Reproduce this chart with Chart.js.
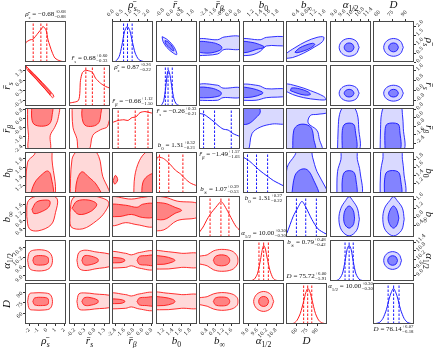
<!DOCTYPE html>
<html><head><meta charset="utf-8">
<script src="https://cdn.jsdelivr.net/npm/chart.js@4.4.1/dist/chart.umd.min.js"></script>
<style>
html,body{margin:0;padding:0;background:#fff;}
#wrap{position:relative;width:437px;height:348px;overflow:hidden;background:#fff;}
canvas{position:absolute;}
.t{position:absolute;font-family:'Liberation Serif','DejaVu Serif',serif;color:#111;white-space:nowrap;}
.ttl{font-size:7px;text-align:center;line-height:9px;}
.ss{display:inline-flex;flex-direction:column;vertical-align:middle;font-size:4.8px;line-height:4.6px;margin-left:0.5px;}
.ax{font-size:11px;text-align:center;line-height:14px;}
.ax sub,.ttl sub{font-size:70%;}
</style></head><body><div id="wrap"></div>
<script>
// ---------- parameters / axes ----------
const paramSym = ['ρ\u0304','r\u0304','r\u0304','b','b','α','D'];
const paramSub = ['s','s','β','0','∞','1/2',''];
const redRange  = [[-2.5,2.2],[-0.5,1.57],[-2.7,0.9],[1.02,1.95],[0,2],[8.68,11.3],[44,104]];
const blueRange = [[0,2.3],[-1.2,2.0],[-2.95,0.9],[0.98,1.98],[-0.1,1.75],[8.6,11.6],[53,99]];
const redTicks  = [['-2','-1','0','1','2'],['-0.2','0.3','0.8','1.3'],['-2.4','-1.6','-0.8','0.0','0.8'],['1.2','1.4','1.6','1.8'],['0.4','0.8','1.2','1.6'],['9.0','9.6','10.2','10.8'],['60','75','90']];
const blueTicks = [['0.0','0.5','1.0','1.5','2.0'],['-0.8','0.0','0.8','1.6'],['-2.4','-1.6','-0.8','0.0','0.8'],['1.2','1.4','1.6','1.8'],['0.4','0.8','1.2','1.6'],['9.0','9.6','10.2','10.8','11.4'],['60','75','90']];
// median, +err, -err
const redStats  = [[-0.68,0.68,0.88],[0.68,0.60,0.33],[-0.66,1.12,1.50],[1.31,0.32,0.21],[1.07,0.39,0.53],[10.00,0.30,0.30],[75.72,6.00,5.91]];
const blueStats = [[0.87,0.26,0.22],[-0.26,0.33,0.21],[-1.49,1.57,1.03],[1.31,0.27,0.22],[0.79,0.48,0.42],[10.00,0.30,0.30],[76.14,6.07,6.18]];

// ---------- 1D marginals (x, relative density) ----------
const redHistRho  = [[-2.5,0],[-2.44,0.5],[-2.39,0.55],[-1.93,0.62],[-1.58,0.64],[-1.01,0.81],[-0.55,0.95],[-0.44,1.0],[-0.09,0.9],[0.14,0.62],[0.6,0.28],[0.94,0.11],[1.51,0.03],[2.2,0.0]];
const redHistRs   = [[-0.5,0.08],[-0.02,0.16],[0.08,0.72],[0.18,0.94],[0.33,1.0],[0.48,0.99],[0.69,0.94],[0.84,0.78],[1.09,0.64],[1.34,0.55],[1.57,0.5]];
const redHistRb   = [[-2.7,0.74],[-2.17,0.8],[-1.65,0.82],[-1.3,0.8],[-0.95,0.88],[-0.6,0.9],[-0.24,1.02],[0.19,1.05],[0.63,1.02],[0.9,1.0]];
const redHistB0   = [[1.02,0.75],[1.05,1.0],[1.17,0.98],[1.26,0.9],[1.35,0.79],[1.46,0.64],[1.58,0.53],[1.69,0.39],[1.8,0.28],[1.95,0.2]];
const redHistBinf = [[0.0,0.12],[0.2,0.28],[0.4,0.5],[0.6,0.68],[0.8,0.82],[1.0,0.96],[1.07,1.0],[1.2,0.92],[1.4,0.72],[1.6,0.5],[1.8,0.3],[2.0,0.18]];
const redHistAlp  = [[8.68,0],[9.2,0.01],[9.4,0.05],[9.6,0.2],[9.8,0.6],[9.9,0.85],[10.0,1.0],[10.1,0.92],[10.2,0.7],[10.4,0.3],[10.6,0.08],[10.8,0.02],[11.3,0]];
const redHistD    = [[44,0],[55,0.02],[60,0.1],[65,0.3],[70,0.65],[73,0.88],[76,1.0],[79,0.9],[82,0.68],[87,0.3],[92,0.1],[97,0.03],[104,0]];
const blueHistRho = [[0,0],[0.2,0.02],[0.4,0.15],[0.55,0.45],[0.7,0.85],[0.85,1.0],[1.0,0.88],[1.15,0.55],[1.3,0.25],[1.5,0.07],[1.8,0.01],[2.3,0]];
const blueHistRs  = [[-1.2,0],[-0.8,0.02],[-0.6,0.15],[-0.45,0.5],[-0.3,0.95],[-0.22,1.0],[-0.1,0.85],[0.05,0.5],[0.2,0.2],[0.4,0.05],[0.7,0.01],[2.0,0]];
const blueHistRb  = [[-2.95,1.0],[-2.48,0.97],[-2.0,0.87],[-1.53,0.76],[-1.16,0.66],[-0.69,0.56],[-0.21,0.53],[0.26,0.43],[0.9,0.35]];
const blueHistB0  = [[0.99,1.0],[1.11,0.92],[1.24,0.79],[1.36,0.66],[1.48,0.55],[1.6,0.45],[1.72,0.35],[1.85,0.27],[1.97,0.2]];
const blueHistBinf= [[-0.1,0.08],[-0.05,0.12],[0.22,0.57],[0.44,0.83],[0.62,1.0],[0.8,0.83],[1.07,0.49],[1.34,0.23],[1.66,0.1],[1.75,0.08]];
const blueHistAlp = [[8.6,0],[9.2,0.03],[9.5,0.2],[9.7,0.55],[9.85,0.88],[10.0,1.0],[10.15,0.88],[10.3,0.55],[10.5,0.2],[10.8,0.03],[11.6,0]];
const blueHistD   = [[53,0],[60,0.04],[64,0.15],[68,0.4],[72,0.78],[76,1.0],[80,0.78],[84,0.4],[88,0.15],[92,0.04],[99,0]];

// ---------- 2D credible contours: [outer, inner, ...] as (x, y) in data units ----------
const red10 = [[[-2.4,1.52],[-1.5,1.14],[-0.5,0.68],[0.4,0.25],[0.8,0.0],[0.65,-0.08],[-0.2,0.36],[-1.2,0.84],[-2.2,1.3],[-2.4,1.52]],
               [[-2.1,1.36],[-1.2,0.96],[0.1,0.34],[0.5,0.12],[0.35,0.1],[-0.9,0.7],[-2.0,1.27],[-2.1,1.36]]];
const red20 = [[[-2.2,1.2],[-2.2,-0.5],[-2.1,-1.5],[-2.0,-2.8],[0.3,-2.8],[0.4,-1.5],[0.9,-0.8],[1.3,0.0],[1.3,1.2],[-2.2,1.2]],
               [[-1.7,1.2],[-1.75,0.2],[-1.5,-0.5],[-0.6,-0.7],[0.3,-0.5],[0.6,0.2],[0.55,1.2],[-1.7,1.2]]];
const red21 = [[[-0.35,1.2],[-0.3,-0.8],[-0.1,-1.8],[0.0,-2.8],[0.5,-2.8],[0.7,-1.5],[1.1,-1.0],[1.45,-0.7],[1.5,1.2],[-0.35,1.2]],
               [[0.18,1.2],[0.15,0.2],[0.3,-0.6],[0.7,-0.7],[1.0,-0.4],[1.1,0.3],[1.1,1.2],[0.18,1.2]]];
const red30 = [[[-2.45,0.9],[-2.2,1.72],[-1.4,1.9],[-1.0,2.1],[0.4,2.1],[0.6,1.77],[0.75,0.9],[-2.45,0.9]],
               [[-2.0,0.9],[-1.4,1.25],[-0.5,1.45],[0.1,1.52],[0.45,1.43],[0.6,0.9],[-2.0,0.9]]];
const red31 = [[[-0.45,0.9],[-0.35,1.78],[-0.1,1.97],[0.5,2.1],[1.0,1.85],[1.2,1.4],[1.5,1.1],[1.6,0.9],[-0.45,0.9]],
               [[-0.2,0.9],[-0.1,1.3],[0.15,1.5],[0.5,1.38],[0.9,1.2],[1.15,0.9],[-0.2,0.9]]];
const red32 = [[[-0.8,0.9],[-0.7,1.4],[-0.3,1.75],[0.3,1.95],[1.0,2.0],[1.0,0.9],[-0.8,0.9]],
               [[-0.1,0.9],[0.0,1.25],[0.4,1.4],[1.0,1.45],[1.0,0.9],[-0.1,0.9]],
               [[-2.6,1.3],[-2.4,1.42],[-2.2,1.32],[-2.45,1.22],[-2.6,1.3]]];
const red40 = [[[-2.3,1.0],[-2.2,1.7],[-1.5,1.95],[0.3,2.05],[1.2,1.85],[1.0,1.2],[0.5,0.6],[-1.0,0.3],[-2.0,0.4],[-2.3,1.0]],
               [[-1.7,1.35],[-1.2,1.7],[-0.3,1.8],[0.35,1.75],[0.2,1.45],[-0.8,1.2],[-1.5,1.15],[-1.7,1.35]]];
const red41 = [[[-0.45,1.2],[-0.3,1.9],[0.3,2.05],[1.0,1.95],[1.5,1.7],[1.3,1.2],[0.9,0.8],[0.2,0.4],[-0.4,0.5],[-0.45,1.2]],
               [[-0.35,1.4],[-0.1,1.75],[0.5,1.8],[0.9,1.6],[0.6,1.25],[0.0,1.1],[-0.35,1.4]]];
const red42 = [[[-3,0.6],[-3,1.9],[-1,1.85],[0.2,1.95],[1.0,1.95],[1.0,0.55],[-0.5,0.6],[-1.5,0.7],[-2.5,0.55],[-3,0.6]],
               [[-3,1.0],[-3,1.55],[-1.5,1.55],[-0.5,1.45],[0.0,1.6],[1.0,1.6],[1.0,1.0],[0.0,0.95],[-1.0,1.1],[-2,1.0],[-3,1.0]]];
const red43 = [[[0.9,0.3],[0.9,1.9],[1.2,1.95],[1.5,1.75],[2.0,1.6],[2.0,1.0],[1.5,0.8],[1.2,0.35],[0.9,0.3]],
               [[0.9,0.9],[0.9,1.6],[1.2,1.65],[1.45,1.45],[1.6,1.3],[1.45,1.15],[1.2,0.85],[0.9,0.9]]];
const red50 = [[[-2.2,10.0],[-2.0,10.5],[-1.5,10.65],[-0.3,10.65],[0.4,10.45],[0.65,10.0],[0.4,9.55],[-0.3,9.35],[-1.5,9.35],[-2.0,9.5],[-2.2,10.0]],
               [[-1.6,10.0],[-1.4,10.25],[-0.5,10.3],[0.1,10.2],[0.2,10.0],[0.1,9.8],[-0.5,9.7],[-1.4,9.75],[-1.6,10.0]]];
const red51 = [[[-0.1,10.0],[0.0,10.5],[0.3,10.65],[0.8,10.55],[1.7,10.3],[1.7,9.7],[0.8,9.45],[0.3,9.35],[0.0,9.5],[-0.1,10.0]],
               [[0.15,10.0],[0.25,10.27],[0.5,10.3],[0.95,10.1],[0.95,9.9],[0.5,9.7],[0.25,9.73],[0.15,10.0]]];
const red52 = [[[-3,9.5],[-3,10.5],[-1.5,10.45],[-1.0,10.35],[-0.3,10.5],[1,10.55],[1,9.45],[-0.3,9.5],[-1.0,9.65],[-1.5,9.55],[-3,9.5]],
               [[-3,9.85],[-3,10.15],[-2.0,10.15],[-1.6,10.05],[-1.6,9.95],[-2.0,9.85],[-3,9.85]],
               [[-0.5,10.0],[-0.3,10.25],[0.3,10.3],[1,10.3],[1,9.7],[0.3,9.7],[-0.3,9.75],[-0.5,10.0]]];
const red53 = [[[0.9,9.45],[0.9,10.55],[1.3,10.55],[1.6,10.45],[2.0,10.4],[2.0,9.6],[1.6,9.55],[1.3,9.45],[0.9,9.45]],
               [[0.9,9.75],[0.9,10.25],[1.2,10.25],[1.4,10.1],[1.45,10.0],[1.4,9.9],[1.2,9.75],[0.9,9.75]]];
const red54 = [[[-0.1,9.8],[-0.1,10.2],[0.4,10.35],[0.7,10.6],[1.1,10.7],[1.6,10.6],[1.85,10.3],[1.9,10.0],[1.85,9.7],[1.6,9.4],[1.1,9.3],[0.7,9.4],[0.4,9.65],[-0.1,9.8]],
               [[0.7,10.0],[0.8,10.25],[1.1,10.35],[1.4,10.25],[1.5,10.0],[1.4,9.75],[1.1,9.65],[0.8,9.75],[0.7,10.0]]];
const red60 = [[[-2.2,77],[-2.0,88],[-1.5,89.5],[-0.3,89.5],[0.4,87],[0.65,77],[0.4,67],[-0.3,64.5],[-1.5,64.5],[-2.0,66],[-2.2,77]],
               [[-1.6,77],[-1.4,82],[-0.5,83],[0.1,81.5],[0.2,77],[0.1,72.5],[-0.5,71],[-1.4,72],[-1.6,77]]];
const red61 = [[[-0.1,77],[0.0,88],[0.3,89.5],[0.8,88],[1.7,84],[1.7,70],[0.8,66],[0.3,64.5],[0.0,66],[-0.1,77]],
               [[0.15,77],[0.25,82],[0.5,83],[0.95,79],[0.95,75],[0.5,71],[0.25,72],[0.15,77]]];
const red62 = [[[-3,66],[-3,88],[-1.5,87],[-1.0,85],[-0.3,88],[1,89],[1,65],[-0.3,66],[-1.0,69],[-1.5,67],[-3,66]],
               [[-3,74],[-3,80],[-2.0,80],[-1.6,78],[-1.6,76],[-2.0,74],[-3,74]],
               [[-0.5,77],[-0.3,82],[0.3,83],[1,83],[1,71],[0.3,71],[-0.3,72],[-0.5,77]]];
const red63 = [[[0.9,65],[0.9,89],[1.3,89],[1.6,87],[2.0,86],[2.0,68],[1.6,67],[1.3,65],[0.9,65]],
               [[0.9,71],[0.9,83],[1.2,83],[1.4,80],[1.45,77],[1.4,74],[1.2,71],[0.9,71]]];
const red64 = [[[-0.1,73],[-0.1,81],[0.4,84],[0.7,88],[1.1,90],[1.6,88],[1.85,83],[1.9,77],[1.85,71],[1.6,66],[1.1,64],[0.7,66],[0.4,70],[-0.1,73]],
               [[0.7,77],[0.8,82],[1.1,83.5],[1.4,82],[1.5,77],[1.4,72],[1.1,70.5],[0.8,72],[0.7,77]]];
const red65 = [[[10.64,77],[10.45,87.3],[10.0,91.6],[9.55,87.3],[9.36,77],[9.55,66.7],[10.0,62.4],[10.45,66.7],[10.64,77]],
               [[10.32,77],[10.23,82.2],[10.0,84.3],[9.77,82.2],[9.68,77],[9.77,71.8],[10.0,69.7],[10.23,71.8],[10.32,77]]];

const blue01 = [[[-0.72,1.42],[-0.4,1.3],[0.01,1.03],[0.3,0.72],[0.42,0.42],[0.15,0.5],[-0.35,0.81],[-0.65,1.15],[-0.72,1.42]],
                [[-0.5,1.2],[-0.28,1.14],[-0.05,0.98],[0.12,0.8],[0.2,0.63],[0.02,0.68],[-0.25,0.86],[-0.45,1.02],[-0.5,1.2]]];
const blue02 = [[[-3.1,0.35],[-3.1,1.25],[-1.2,1.25],[-0.6,1.4],[1,1.4],[1,0.75],[-0.6,0.7],[-1.2,0.45],[-3.1,0.35]],
                [[-3.1,0.55],[-3.1,1.1],[-1.8,1.1],[-1.0,0.95],[-0.8,0.8],[-1.0,0.65],[-2.0,0.5],[-3.1,0.55]]];
const blue03 = [[[0.9,0.35],[0.9,1.25],[1.4,1.25],[1.55,1.38],[2.05,1.38],[2.05,0.95],[1.55,0.9],[1.4,0.6],[1.2,0.4],[0.9,0.35]],
                [[0.9,0.5],[0.9,1.1],[1.2,1.1],[1.45,0.92],[1.5,0.82],[1.3,0.7],[1.1,0.55],[0.9,0.5]]];
const blue04 = [[[-0.15,0.2],[-0.1,0.45],[0.3,0.8],[0.8,1.15],[1.3,1.38],[1.6,1.4],[1.55,1.15],[1.2,0.85],[0.7,0.5],[0.2,0.25],[-0.15,0.2]],
                [[0.3,0.55],[0.5,0.78],[0.8,0.95],[1.1,1.05],[1.2,0.98],[1.0,0.78],[0.7,0.62],[0.4,0.52],[0.3,0.55]]];
const blue05 = [[[10.73,0.82],[10.52,1.17],[10.0,1.32],[9.48,1.17],[9.27,0.82],[9.48,0.47],[10.0,0.32],[10.52,0.47],[10.73,0.82]],
                [[10.36,0.82],[10.25,1.0],[10.0,1.07],[9.75,1.0],[9.64,0.82],[9.75,0.64],[10.0,0.57],[10.25,0.64],[10.36,0.82]]];
const blue06 = [[[87,0.82],[83.8,1.17],[76,1.32],[68.2,1.17],[65,0.82],[68.2,0.47],[76,0.32],[83.8,0.47],[87,0.82]],
                [[81.5,0.82],[79.9,0.995],[76,1.07],[72.1,0.995],[70.5,0.82],[72.1,0.645],[76,0.57],[79.9,0.645],[81.5,0.82]]];
const blue12 = [[[-3.1,-0.75],[-3.1,0.42],[-1.2,0.42],[-0.7,0.2],[1,0.2],[1,-0.5],[-0.7,-0.55],[-1.2,-0.75],[-3.1,-0.75]],
                [[-3.1,-0.55],[-3.1,0.2],[-1.8,0.2],[-1.0,-0.05],[-0.85,-0.2],[-1.0,-0.4],[-2.0,-0.55],[-3.1,-0.55]]];
const blue13 = [[[0.9,-0.75],[0.9,0.4],[1.35,0.4],[1.55,0.15],[2.05,0.1],[2.05,-0.4],[1.55,-0.55],[1.3,-0.75],[0.9,-0.75]],
                [[0.9,-0.55],[0.9,0.2],[1.15,0.2],[1.45,-0.1],[1.45,-0.25],[1.2,-0.5],[0.9,-0.55]]];
const blue14 = [[[-0.15,0.0],[-0.15,0.5],[0.4,0.35],[1.0,0.0],[1.6,-0.45],[1.7,-0.7],[1.3,-0.7],[0.7,-0.55],[0.2,-0.3],[-0.15,0.0]],
                [[0.1,0.0],[0.15,0.2],[0.5,0.15],[0.9,-0.1],[1.0,-0.3],[0.75,-0.35],[0.4,-0.2],[0.1,0.0]]];
const blue15 = [[[10.73,-0.2],[10.52,0.24],[10.0,0.42],[9.48,0.24],[9.27,-0.2],[9.48,-0.64],[10.0,-0.82],[10.52,-0.64],[10.73,-0.2]],
                [[10.36,-0.2],[10.25,0.01],[10.0,0.1],[9.75,0.01],[9.64,-0.2],[9.75,-0.41],[10.0,-0.5],[10.25,-0.41],[10.36,-0.2]]];
const blue16 = [[[87,-0.2],[83.8,0.24],[76,0.42],[68.2,0.24],[65,-0.2],[68.2,-0.64],[76,-0.82],[83.8,-0.64],[87,-0.2]],
                [[81.5,-0.2],[79.9,0.01],[76,0.1],[72.1,0.01],[70.5,-0.2],[72.1,-0.41],[76,-0.5],[79.9,-0.41],[81.5,-0.2]]];
const blue23 = [[[0.9,1.0],[0.9,-3.1],[1.1,-3.1],[1.2,-1.5],[1.4,-0.9],[1.7,-0.6],[2.05,-0.5],[2.05,1.0],[0.9,1.0]],
                [[0.9,1.0],[0.9,-0.5],[1.1,-0.6],[1.3,0.0],[1.4,0.5],[1.35,1.0],[0.9,1.0]]];
const blue24 = [[[-0.2,-3.1],[-0.2,1.0],[1.8,1.0],[1.8,0.5],[1.3,0.3],[1.0,0.2],[0.9,-0.5],[1.3,-1.2],[1.4,-2.0],[1.5,-3.1],[-0.2,-3.1]],
                [[0.2,-3.1],[0.25,-1.2],[0.45,-0.7],[0.8,-0.65],[1.05,-1.0],[1.15,-2.0],[1.2,-3.1],[0.2,-3.1]]];
const blue25 = [[[9.15,-3.1],[9.2,-1.0],[9.3,0.3],[9.6,1.0],[10.3,1.0],[10.6,0.3],[10.7,-1.0],[10.7,-3.1],[9.15,-3.1]],
                [[9.5,-3.1],[9.5,-1.2],[9.7,-0.6],[10.3,-0.6],[10.45,-1.2],[10.5,-3.1],[9.5,-3.1]]];
const blue26 = [[[61,-3.1],[61.5,-1.0],[62.5,0.3],[66,1.0],[84,1.0],[86,0.3],[87,-1.0],[87,-3.1],[61,-3.1]],
                [[66.5,-3.1],[66.5,-1.2],[69,-0.6],[81,-0.6],[83,-1.2],[83,-3.1],[66.5,-3.1]]];
const blue34 = [[[-0.15,0.9],[-0.05,1.6],[0.3,1.9],[0.45,2.05],[1.0,2.05],[1.1,1.85],[1.3,1.5],[1.7,1.1],[1.8,0.9],[-0.15,0.9]],
                [[0.15,0.9],[0.3,1.4],[0.55,1.55],[0.85,1.55],[1.1,1.35],[1.35,0.9],[0.15,0.9]]];
const blue35 = [[[9.1,0.9],[9.15,1.5],[9.4,1.8],[9.5,2.05],[10.5,2.05],[10.6,1.8],[10.8,1.5],[10.85,0.9],[9.1,0.9]],
                [[9.5,0.9],[9.5,1.3],[9.7,1.5],[10.3,1.5],[10.5,1.3],[10.5,0.9],[9.5,0.9]]];
const blue36 = [[[61,0.9],[61.5,1.5],[64,1.8],[66,2.05],[84,2.05],[86,1.8],[87.5,1.5],[88,0.9],[61,0.9]],
                [[66,0.9],[66,1.3],[69,1.5],[81,1.5],[84,1.3],[84,0.9],[66,0.9]]];
const blue45 = [[[10.75,0.7],[10.6,1.2],[10.25,1.55],[10.0,1.72],[9.75,1.55],[9.4,1.2],[9.25,0.7],[9.45,0.2],[10.0,-0.05],[10.55,0.2],[10.75,0.7]],
                [[10.4,0.75],[10.3,1.1],[10.0,1.3],[9.7,1.1],[9.6,0.75],[9.7,0.45],[10.0,0.3],[10.3,0.45],[10.4,0.75]]];
const blue46 = [[[88,0.7],[86,1.2],[80,1.55],[76,1.72],[72,1.55],[66,1.2],[64,0.7],[67,0.2],[76,-0.05],[85,0.2],[88,0.7]],
                [[82,0.75],[80,1.1],[76,1.3],[72,1.1],[70,0.75],[72,0.45],[76,0.3],[80,0.45],[82,0.75]]];
const blue56 = [[[85,10.1],[82.1,10.56],[75,10.75],[67.9,10.56],[65,10.1],[67.9,9.64],[75,9.45],[82.1,9.64],[85,10.1]],
                [[80.5,10.1],[78.9,10.35],[75,10.45],[71.1,10.35],[69.5,10.1],[71.1,9.85],[75,9.75],[78.9,9.85],[80.5,10.1]]];

// ---------- assembly ----------
const redHists  = [redHistRho,redHistRs,redHistRb,redHistB0,redHistBinf,redHistAlp,redHistD];
const blueHists = [blueHistRho,blueHistRs,blueHistRb,blueHistB0,blueHistBinf,blueHistAlp,blueHistD];
const redPanels = {'1,0':red10,'2,0':red20,'2,1':red21,'3,0':red30,'3,1':red31,'3,2':red32,'4,0':red40,'4,1':red41,'4,2':red42,'4,3':red43,
  '5,0':red50,'5,1':red51,'5,2':red52,'5,3':red53,'5,4':red54,'6,0':red60,'6,1':red61,'6,2':red62,'6,3':red63,'6,4':red64,'6,5':red65};
const bluePanels = {'0,1':blue01,'0,2':blue02,'0,3':blue03,'0,4':blue04,'0,5':blue05,'0,6':blue06,'1,2':blue12,'1,3':blue13,'1,4':blue14,'1,5':blue15,'1,6':blue16,
  '2,3':blue23,'2,4':blue24,'2,5':blue25,'2,6':blue26,'3,4':blue34,'3,5':blue35,'3,6':blue36,'4,5':blue45,'4,6':blue46,'5,6':blue56};

const PX = c => Math.round(25 + 43.5*c), PY = r => Math.round(21 + 43.7*r), PW = 41, PH = 41, M = 22;
const HMAX = 1.15;
const wrap = document.getElementById('wrap');
const RED = '#ff1a1a', BLUE = '#1a1aff', REDRGB = '255,0,0', BLUERGB = '0,0,255';

const framePlugin = {id:'frame', afterDraw(ch){const a=ch.chartArea,c=ch.ctx;c.save();c.strokeStyle='#4a4a4a';c.lineWidth=1;
  c.strokeRect(Math.round(a.left)+0.5,Math.round(a.top)+0.5,Math.round(a.right-a.left)-1,Math.round(a.bottom-a.top)-1);c.restore();}};

function pts(a){return a.map(p=>({x:p[0],y:p[1]}));}
function contourSets(polys, rgb, line){
  return polys.map((p,k)=>({data:pts(p),borderColor:line,borderWidth:0.9,backgroundColor:`rgba(${rgb},${k===0?0.15:0.4})`,fill:'shape',pointRadius:0,tension:0.35}));
}
function histSets(h, st, line){
  const [m,p,n] = st;
  const s = [{data:pts(h),borderColor:line,borderWidth:1,fill:false,pointRadius:0,tension:0.25}];
  [m-n,m,m+p].forEach(v=>s.push({data:[{x:v,y:0},{x:v,y:HMAX}],borderColor:line,borderWidth:1,borderDash:[2.5,1.5],fill:false,pointRadius:0}));
  return s;
}
function axis(range, labels, pos, show, isX){
  return {type:'linear',position:pos,min:range[0],max:range[1],
    afterBuildTicks:s=>{s.ticks=labels.map(t=>({value:parseFloat(t)}));},
    afterFit:s=>{if(isX) s.height=M; else s.width=M;},
    ticks:{display:show,autoSkip:false,minRotation:45,maxRotation:45,padding:1,color:'#222',
      font:{family:'DejaVu Serif',size:5},callback:(v,i)=>labels[i]},
    grid:{display:show,drawOnChartArea:false,drawTicks:true,tickLength:2,color:'#333'},
    border:{display:false}};
}
function panel(row,col,datasets,xr,xl,yr,yl,blue,showX,showY){
  const cv=document.createElement('canvas');cv.width=PW+2*M;cv.height=PH+2*M;
  cv.style.left=(PX(col)-M)+'px';cv.style.top=(PY(row)-M)+'px';
  wrap.appendChild(cv);
  new Chart(cv,{type:'line',data:{datasets},options:{animation:false,responsive:false,events:[],
    layout:{padding:blue?{left:M,bottom:M,top:0,right:0}:{top:M,right:M,left:0,bottom:0}},
    plugins:{legend:{display:false},tooltip:{enabled:false}},
    scales:{x:axis(xr,xl,blue?'top':'bottom',showX,true),y:axis(yr,yl,blue?'right':'left',showY,false)}},
    plugins:[framePlugin]});
}
const N = 7;
// red lower triangle + diagonal
for(let i=0;i<N;i++){
  for(let j=0;j<=i;j++){
    if(i===j) panel(i,j,histSets(redHists[i],redStats[i],RED),redRange[j],redTicks[j],[0,HMAX],[],false,i===N-1,false);
    else panel(i,j,contourSets(redPanels[i+','+j],REDRGB,RED),redRange[j],redTicks[j],redRange[i],redTicks[i],false,i===N-1,j===0);
  }
}
// blue upper triangle + diagonal (shifted two columns right)
for(let i=0;i<N;i++){
  for(let j=i;j<N;j++){
    if(i===j) panel(i,j+2,histSets(blueHists[i],blueStats[i],BLUE),blueRange[j],blueTicks[j],[0,HMAX],[],true,i===0,false);
    else panel(i,j+2,contourSets(bluePanels[i+','+j],BLUERGB,BLUE),blueRange[j],blueTicks[j],blueRange[i],blueTicks[i],true,i===0,j===N-1);
  }
}
// ---------- text ----------
function sym(k){return `<i>${paramSym[k]}</i>`+(paramSub[k]?`<sub>${/[sβ]/.test(paramSub[k])?'<i>'+paramSub[k]+'</i>':paramSub[k]}</sub>`:'');}
function num(v){return (v<0?'\u2212':'')+Math.abs(v).toFixed(2);}
function title(k,st){return `${sym(k)} = ${num(st[0])}<span class="ss"><span>+${st[1].toFixed(2)}</span><span>\u2212${st[2].toFixed(2)}</span></span>`;}
function addText(cls,html,l,t,w,h,rot){const d=document.createElement('div');d.className='t '+cls;d.innerHTML=html;
  d.style.left=l+'px';d.style.top=t+'px';d.style.width=w+'px';if(h)d.style.height=h+'px';if(rot)d.style.transform=`rotate(${rot}deg)`;wrap.appendChild(d);}
for(let k=0;k<N;k++){
  addText('ttl',title(k,redStats[k]),PX(k)-8,PY(k)-11,PW+16);
  addText('ttl',title(k,blueStats[k]),PX(k+2)-8,PY(k)+PH+1,PW+16);
  addText('ax',sym(k),PX(k)+PW/2-25,333,50);
  addText('ax',sym(k),PX(k+2)+PW/2-25,-3,50);
  if(k>0) addText('ax',sym(k),6-25,PY(k)+PH/2-7,50,14,-90);
  if(k<N-1) addText('ax',sym(k),430-25,PY(k)+PH/2-7,50,14,90);
}
</script></body></html>
